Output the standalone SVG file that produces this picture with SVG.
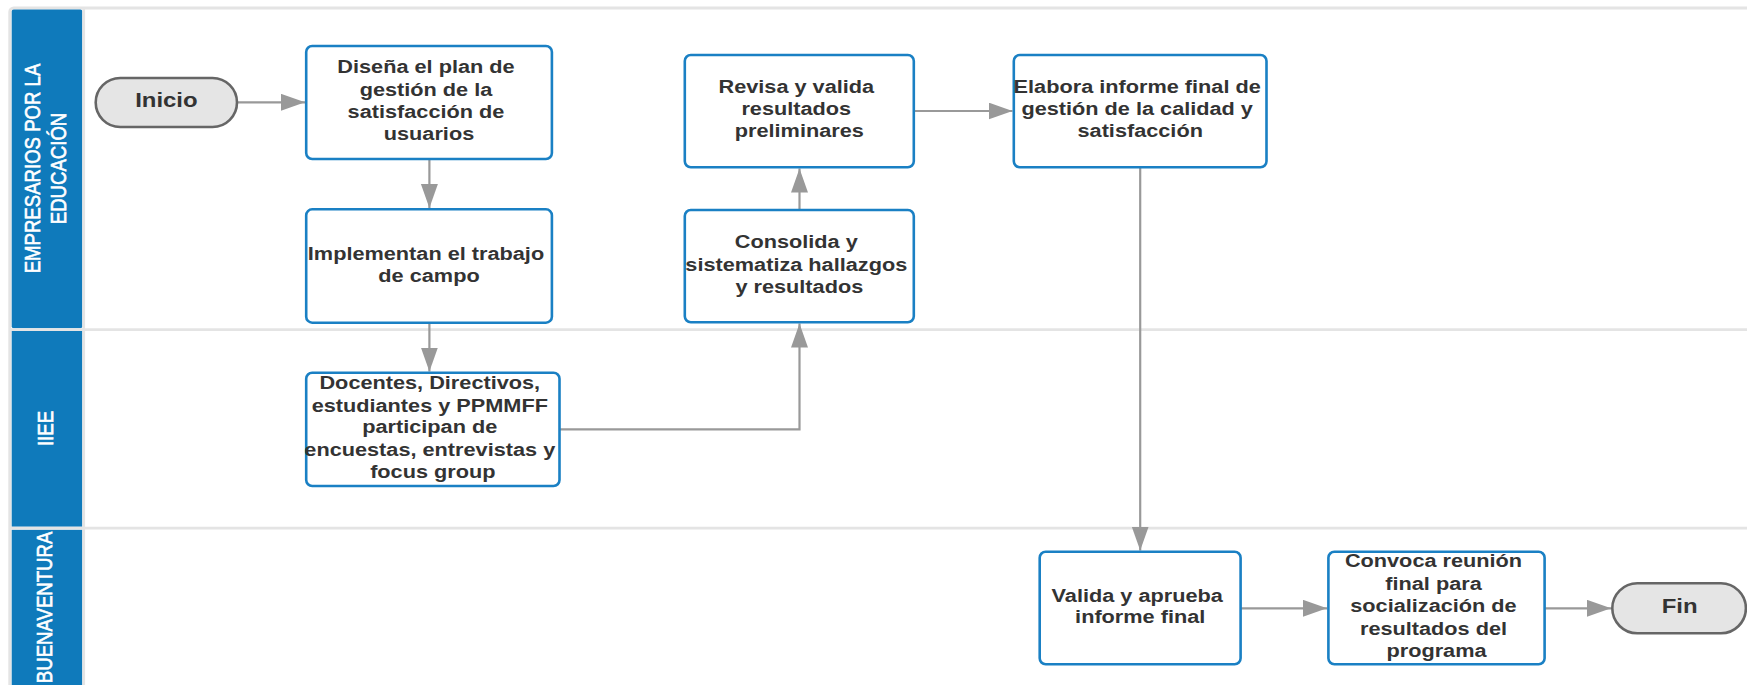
<svg xmlns="http://www.w3.org/2000/svg" width="1747" height="685" viewBox="0 0 1747 685">
  <style>
    .lane-hdr { fill: #0f7abb; }
    .lane-sep { stroke: #e4e4e4; stroke-width: 2.8; fill: none; }
    .lane-txt { font-family: "Liberation Sans", Arial, sans-serif; font-size: 18.6px; fill: #ffffff; stroke: #ffffff; stroke-width: 0.55; text-anchor: middle; }
    .proc { fill: #ffffff; stroke: #1a80c4; stroke-width: 2.6; }
    .term { fill: #e5e5e5; stroke: #666666; stroke-width: 2.6; }
    .lbl { font-family: "Liberation Sans", Arial, sans-serif; font-weight: bold; font-size: 18.6px; fill: #333333; text-anchor: middle; }
    .term-lbl { font-family: "Liberation Sans", Arial, sans-serif; font-weight: bold; font-size: 20.5px; fill: #333333; text-anchor: middle; }
    .conn { stroke: #999999; stroke-width: 2.2; fill: none; }
  </style>
  <defs>
    <marker id="arrow" markerUnits="userSpaceOnUse" markerWidth="25" markerHeight="18" refX="24" refY="8.5" orient="auto">
      <path d="M0,0 L24,8.5 L0,17 z" fill="#999999"/>
    </marker>
  </defs>

  <rect width="1747" height="685" fill="#ffffff"/>

  <!-- swimlane frame -->
  <g id="lanes">
    <rect x="9.8" y="8" width="1800" height="700" rx="4" fill="#ffffff" stroke="#e4e4e4" stroke-width="3"/>
    <rect class="lane-hdr" x="11.7" y="9.4" width="70.6" height="318.9" rx="2"/>
    <rect class="lane-hdr" x="11.7" y="331" width="70.6" height="195.7"/>
    <rect class="lane-hdr" x="11.7" y="529.7" width="70.6" height="170"/>
    <line class="lane-sep" x1="83.7" y1="8" x2="83.7" y2="690"/>
    <line class="lane-sep" x1="10" y1="329.7" x2="1760" y2="329.7"/>
    <line class="lane-sep" x1="10" y1="528.2" x2="1760" y2="528.2"/>
    <text class="lane-txt" transform="translate(39.7,168.5) scale(1.167,1) rotate(-90)" x="0" y="0">EMPRESARIOS POR LA</text>
    <text class="lane-txt" transform="translate(66.4,168.5) scale(1.167,1) rotate(-90)" x="0" y="0">EDUCACIÓN</text>
    <text class="lane-txt" transform="translate(52.7,428.5) scale(1.167,1) rotate(-90)" x="0" y="0">IIEE</text>
    <text class="lane-txt" transform="translate(52.4,607.4) scale(1.167,1) rotate(-90)" x="0" y="0">BUENAVENTURA</text>
  </g>

  <!-- connectors -->
  <g id="connectors">
    <path class="conn" marker-end="url(#arrow)" d="M237,102.3 H305"/>
    <path class="conn" marker-end="url(#arrow)" d="M429.4,159 V208"/>
    <path class="conn" marker-end="url(#arrow)" d="M429.4,322.7 V371.5"/>
    <path class="conn" marker-end="url(#arrow)" d="M559.5,429.3 H799.5 V323.5"/>
    <path class="conn" marker-end="url(#arrow)" d="M799.5,210 V168.5"/>
    <path class="conn" marker-end="url(#arrow)" d="M913.8,111 H1012.5"/>
    <path class="conn" marker-end="url(#arrow)" d="M1140.2,167.3 V550.5"/>
    <path class="conn" marker-end="url(#arrow)" d="M1240.6,608.3 H1327"/>
    <path class="conn" marker-end="url(#arrow)" d="M1544.6,608.3 H1611"/>
  </g>

  <g id="inicio">
    <rect class="term" x="95.7" y="78" width="141.3" height="49" rx="24.5"/>
    <text class="term-lbl" transform="translate(166.4,0) scale(1.167,1)" x="0" y="106.7">Inicio</text>
  </g>

  <g id="disena">
    <rect class="proc" x="306.2" y="46" width="245.7" height="113" rx="6"/>
    <text class="lbl" transform="translate(429,0) scale(1.167,1)">
      <tspan x="0" y="73.3">Diseña el plan de</tspan>
      <tspan x="0" y="95.8">gestión de la</tspan>
      <tspan x="0" y="118.2">satisfacción de</tspan>
      <tspan x="0" y="140.4">usuarios</tspan>
    </text>
  </g>

  <g id="implementan">
    <rect class="proc" x="306.2" y="209.3" width="245.7" height="113.4" rx="6"/>
    <text class="lbl" transform="translate(429,0) scale(1.167,1)">
      <tspan x="0" y="260">Implementan el trabajo</tspan>
      <tspan x="0" y="281.9">de campo</tspan>
    </text>
  </g>

  <g id="docentes">
    <rect class="proc" x="306.2" y="372.7" width="253.3" height="113.3" rx="6"/>
    <text class="lbl" transform="translate(432.8,0) scale(1.167,1)">
      <tspan x="0" y="389">Docentes, Directivos,</tspan>
      <tspan x="0" y="411.6">estudiantes y PPMMFF</tspan>
      <tspan x="0" y="433.5">participan de</tspan>
      <tspan x="0" y="456">encuestas, entrevistas y</tspan>
      <tspan x="0" y="478.3">focus group</tspan>
    </text>
  </g>

  <g id="consolida">
    <rect class="proc" x="684.8" y="210" width="229" height="112.3" rx="6"/>
    <text class="lbl" transform="translate(799.3,0) scale(1.167,1)">
      <tspan x="0" y="248.3">Consolida y</tspan>
      <tspan x="0" y="270.7">sistematiza hallazgos</tspan>
      <tspan x="0" y="292.7">y resultados</tspan>
    </text>
  </g>

  <g id="revisa">
    <rect class="proc" x="684.8" y="55" width="229" height="112.3" rx="6"/>
    <text class="lbl" transform="translate(799.3,0) scale(1.167,1)">
      <tspan x="0" y="93.3">Revisa y valida</tspan>
      <tspan x="0" y="115.2">resultados</tspan>
      <tspan x="0" y="137.3">preliminares</tspan>
    </text>
  </g>

  <g id="elabora">
    <rect class="proc" x="1013.8" y="55" width="252.7" height="112.3" rx="6"/>
    <text class="lbl" transform="translate(1140.2,0) scale(1.167,1)">
      <tspan x="0" y="93.3">Elabora informe final de</tspan>
      <tspan x="0" y="115.2">gestión de la calidad y</tspan>
      <tspan x="0" y="137.3">satisfacción</tspan>
    </text>
  </g>

  <g id="valida">
    <rect class="proc" x="1039.7" y="551.7" width="200.9" height="112.6" rx="6"/>
    <text class="lbl" transform="translate(1140.2,0) scale(1.167,1)">
      <tspan x="0" y="601.7">Valida y aprueba</tspan>
      <tspan x="0" y="623.5">informe final</tspan>
    </text>
  </g>

  <g id="convoca">
    <rect class="proc" x="1328.4" y="551.7" width="216.2" height="112.6" rx="6"/>
    <text class="lbl" transform="translate(1436.5,0) scale(1.167,1)">
      <tspan x="0" y="567.3">Convoca reunión</tspan>
      <tspan x="0" y="590">final para</tspan>
      <tspan x="0" y="612.3">socialización de</tspan>
      <tspan x="0" y="635">resultados del</tspan>
      <tspan x="0" y="656.7">programa</tspan>
    </text>
  </g>

  <g id="fin">
    <rect class="term" x="1612.3" y="583.3" width="133.6" height="50" rx="25"/>
    <text class="term-lbl" transform="translate(1679.6,0) scale(1.167,1)" x="0" y="612.7">Fin</text>
  </g>
</svg>
